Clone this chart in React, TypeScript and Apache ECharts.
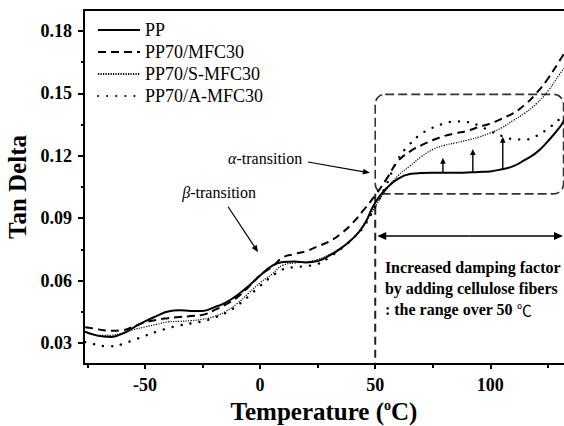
import React, { useEffect, useRef } from "react";
import * as echarts from "echarts";

// Temperature grid (°C)
const temps = [-76, -72, -68, -65, -60, -55, -50, -45, -40, -35, -30, -25, -20, -15, -10, -5, 0, 5, 10, 15, 20, 25, 30, 35, 40, 45, 50, 55, 60, 65, 70, 75, 80, 85, 90, 95, 100, 105, 110, 115, 120, 125, 130, 132];

const ppValues = [0.0355, 0.034, 0.0332, 0.033, 0.0345, 0.0375, 0.0405, 0.043, 0.0452, 0.0458, 0.0455, 0.0455, 0.0472, 0.0495, 0.053, 0.0575, 0.0625, 0.067, 0.069, 0.0692, 0.0688, 0.0695, 0.072, 0.0755, 0.08, 0.0865, 0.0975, 0.1045, 0.109, 0.1112, 0.1117, 0.1118, 0.1118, 0.1118, 0.112, 0.1122, 0.1125, 0.1135, 0.115, 0.118, 0.1215, 0.127, 0.1335, 0.137];

const mfcValues = [0.0377, 0.037, 0.0362, 0.036, 0.0362, 0.038, 0.04, 0.0412, 0.042, 0.0426, 0.043, 0.0436, 0.0458, 0.0485, 0.052, 0.057, 0.0625, 0.0665, 0.0712, 0.0728, 0.0742, 0.0765, 0.0788, 0.0825, 0.0875, 0.094, 0.101, 0.109, 0.1175, 0.122, 0.125, 0.1275, 0.1295, 0.1308, 0.132, 0.1338, 0.1355, 0.1378, 0.1405, 0.1445, 0.15, 0.157, 0.1655, 0.169];

const sMfcValues = [0.0355, 0.0342, 0.0337, 0.0338, 0.0348, 0.0365, 0.0378, 0.039, 0.0402, 0.0405, 0.0408, 0.0415, 0.0428, 0.0452, 0.049, 0.054, 0.059, 0.063, 0.0675, 0.0685, 0.069, 0.0702, 0.0725, 0.0758, 0.08, 0.087, 0.0955, 0.104, 0.1105, 0.115, 0.1195, 0.123, 0.125, 0.1262, 0.1275, 0.129, 0.131, 0.1335, 0.137, 0.1405, 0.145, 0.151, 0.159, 0.162];

const aMfcValues = [0.0305, 0.0295, 0.0286, 0.0285, 0.0295, 0.0315, 0.0335, 0.0355, 0.0372, 0.0385, 0.0395, 0.0405, 0.0422, 0.0445, 0.048, 0.0525, 0.0575, 0.062, 0.0655, 0.0665, 0.067, 0.068, 0.0712, 0.0752, 0.08, 0.086, 0.0955, 0.1065, 0.1185, 0.1255, 0.1305, 0.1335, 0.1355, 0.1365, 0.1362, 0.1345, 0.1318, 0.1295, 0.128, 0.1278, 0.1295, 0.133, 0.1375, 0.139];

const seriesNames = ["PP", "PP70/MFC30", "PP70/S-MFC30", "PP70/A-MFC30"];

const xLabelTicks = [-50, 0, 50, 100];
const xMinorTicks = [-75, -25, 25, 75, 125];
const yLabelTicks = [0.03, 0.06, 0.09, 0.12, 0.15, 0.18];
const yMinorTicks = [0.045, 0.075, 0.105, 0.135, 0.165];

const FONT = '"Liberation Serif", "Times New Roman", serif';

export default function App() {
  const ref = useRef<HTMLDivElement>(null);

  useEffect(() => {
    document.body.style.margin = "0";
    const chart = echarts.init(ref.current!, null, { renderer: "svg" });
    const mk = (vals: number[]) => temps.map((t, i) => [t, vals[i]]);
    const xMin = -76.5;
    const xMax = 132;
    const yMin = 0.02;
    const yMax = 0.19;

    const option: any = {
      animation: false,
      backgroundColor: "#fff",
      grid: { left: 84, top: 10, right: 0, bottom: 62, outerBoundsMode: "none", containLabel: false },
      legend: {
        orient: "vertical",
        left: 97,
        top: 21,
        padding: 0,
        itemWidth: 42,
        itemHeight: 14,
        itemGap: 4,
        data: seriesNames,
        itemStyle: { opacity: 0 },
        textStyle: { fontFamily: FONT, fontSize: 18, color: "#000", lineHeight: 18 },
      },
      xAxis: [
        {
          type: "value",
          min: xMin,
          max: xMax,
          position: "bottom",
          axisLine: { onZero: false, lineStyle: { color: "#000", width: 2 } },
          axisTick: { customValues: xLabelTicks, length: 5, lineStyle: { color: "#000", width: 2 } },
          axisLabel: {
            customValues: xLabelTicks,
            fontFamily: FONT,
            fontSize: 18,
            fontWeight: "bold",
            color: "#000",
            margin: 12,
          },
          splitLine: { show: false },
          name: "{t|Temperature (}{s|o}{t|C)}",
          nameLocation: "middle",
          nameGap: 27,
          nameTextStyle: {
            rich: {
              t: { fontFamily: FONT, fontSize: 25, fontWeight: "bold", color: "#000", lineHeight: 26 },
              s: { fontFamily: FONT, fontSize: 14, fontWeight: "bold", color: "#000", lineHeight: 14, verticalAlign: "top" },
            },
          },
        },
        {
          type: "value",
          min: xMin,
          max: xMax,
          position: "bottom",
          axisLine: { show: false, onZero: false },
          axisTick: { customValues: xMinorTicks, length: 4, lineStyle: { color: "#000", width: 2 } },
          axisLabel: { show: false },
          splitLine: { show: false },
        },
        {
          type: "value",
          min: xMin,
          max: xMax,
          position: "top",
          axisLine: { onZero: false, lineStyle: { color: "#000", width: 2 } },
          axisTick: { show: false },
          axisLabel: { show: false },
          splitLine: { show: false },
        },
      ],
      yAxis: [
        {
          type: "value",
          min: yMin,
          max: yMax,
          position: "left",
          axisLine: { onZero: false, lineStyle: { color: "#000", width: 2 } },
          axisTick: { customValues: yLabelTicks, length: 6, lineStyle: { color: "#000", width: 2 } },
          axisLabel: {
            customValues: yLabelTicks,
            formatter: (v: number) => v.toFixed(2),
            fontFamily: FONT,
            fontSize: 18,
            fontWeight: "bold",
            color: "#000",
            margin: 12,
          },
          splitLine: { show: false },
          name: "Tan Delta",
          nameLocation: "middle",
          nameGap: 54,
          nameTextStyle: { fontFamily: FONT, fontSize: 25, fontWeight: "bold", color: "#000000" },
        },
        {
          type: "value",
          min: yMin,
          max: yMax,
          position: "left",
          axisLine: { show: false, onZero: false },
          axisTick: { customValues: yMinorTicks, length: 3, lineStyle: { color: "#000", width: 2 } },
          axisLabel: { show: false },
          splitLine: { show: false },
        },
      ],
      series: [
        {
          name: seriesNames[0],
          type: "line",
          smooth: true,
          symbol: "none",
          data: mk(ppValues),
          lineStyle: { color: "#000", width: 2, type: "solid" },
          itemStyle: { color: "#000" },
        },
        {
          name: seriesNames[1],
          type: "line",
          smooth: true,
          symbol: "none",
          data: mk(mfcValues),
          lineStyle: { color: "#000", width: 2, type: [8, 5] },
          itemStyle: { color: "#000" },
        },
        {
          name: seriesNames[2],
          type: "line",
          smooth: true,
          symbol: "none",
          data: mk(sMfcValues),
          lineStyle: { color: "#000", width: 1.2, type: [1.2, 1.3] },
          itemStyle: { color: "#000" },
        },
        {
          name: seriesNames[3],
          type: "line",
          smooth: true,
          symbol: "none",
          data: mk(aMfcValues),
          lineStyle: { color: "#000", width: 2.4, type: [0.1, 9], cap: "round" },
          itemStyle: { color: "#000" },
        },
      ],
    };
    chart.setOption(option);

    const P = (x: number, y: number) =>
      chart.convertToPixel({ xAxisIndex: 0, yAxisIndex: 0 }, [x, y]) as number[];

    const arrow = (a: number[], b: number[], len: number, half: number, width: number) => {
      const dx = b[0] - a[0];
      const dy = b[1] - a[1];
      const d = Math.hypot(dx, dy);
      const ux = dx / d;
      const uy = dy / d;
      const bx = b[0] - ux * len;
      const by = b[1] - uy * len;
      return [
        { type: "line", silent: true, shape: { x1: a[0], y1: a[1], x2: bx + ux * 1, y2: by + uy * 1 }, style: { stroke: "#000", lineWidth: width } },
        {
          type: "polygon",
          silent: true,
          shape: { points: [[b[0], b[1]], [bx - uy * half, by + ux * half], [bx + uy * half, by - ux * half]] },
          style: { fill: "#000" },
        },
      ];
    };

    const g: any[] = [];
    // rounded dashed box
    const rTL = P(50, 0.1495);
    const rBR = P(131.8, 0.1017);
    g.push({
      type: "rect",
      silent: true,
      shape: { x: rTL[0], y: rTL[1], width: rBR[0] - rTL[0], height: rBR[1] - rTL[1], r: 10 },
      style: { fill: "none", stroke: "#333", lineWidth: 1.6, lineDash: [9, 4] },
    });
    // vertical dashed line at 50 °C
    const vTop = P(50, 0.1017);
    const vBot = P(50, yMin);
    g.push({
      type: "line",
      silent: true,
      shape: { x1: vTop[0], y1: vTop[1], x2: vBot[0], y2: vBot[1] },
      style: { stroke: "#222", lineWidth: 2, lineDash: [8, 5] },
    });
    // double-headed arrow
    const dA = P(50, 0.0815);
    const dB = P(xMax, 0.0815);
    const mid = [(dA[0] + dB[0]) / 2, dA[1]];
    g.push(...arrow(mid, [dA[0] + 2, dA[1]], 9, 4, 1.6));
    g.push(...arrow(mid, [dB[0] - 1, dB[1]], 9, 4, 1.6));
    // text block
    const tb = P(54.2, 0.0716);
    g.push({
      type: "text",
      silent: true,
      x: tb[0],
      y: tb[1],
      style: {
        text: "{b|Increased damping factor}\n{b|by adding cellulose fibers}\n{b|: the range over 50 }{c|℃}",
        align: "left",
        verticalAlign: "top",
        rich: {
          b: { fontFamily: FONT, fontSize: 16, fontWeight: "bold", lineHeight: 21, fill: "#000" },
          c: { fontFamily: '"Noto Sans CJK SC", sans-serif', fontSize: 15, fontWeight: "normal", lineHeight: 21, fill: "#000" },
        },
      },
    });
    // alpha transition
    const at = P(-13.9, 0.1186);
    g.push({
      type: "text",
      silent: true,
      x: at[0],
      y: at[1],
      style: {
        text: "{i|α}{n|-transition}",
        align: "left",
        verticalAlign: "middle",
        rich: {
          i: { fontFamily: FONT, fontSize: 16, fontStyle: "italic", fill: "#000" },
          n: { fontFamily: FONT, fontSize: 16, fill: "#000" },
        },
      },
    });
    g.push(...arrow(P(20.8, 0.117), P(47.7, 0.1118), 7, 3, 1.2));
    // beta transition
    const bt = P(-33.8, 0.1022);
    g.push({
      type: "text",
      silent: true,
      x: bt[0],
      y: bt[1],
      style: {
        text: "{i|β}{n|-transition}",
        align: "left",
        verticalAlign: "middle",
        rich: {
          i: { fontFamily: FONT, fontSize: 16, fontStyle: "italic", fill: "#000" },
          n: { fontFamily: FONT, fontSize: 16, fill: "#000" },
        },
      },
    });
    g.push(...arrow(P(-13.9, 0.0955), P(-0.9, 0.0737), 7, 3, 1.2));
    // up arrows
    g.push(...arrow(P(79.4, 0.1118), P(79.4, 0.1191), 6, 2.8, 1.4));
    g.push(...arrow(P(92.4, 0.112), P(92.4, 0.1233), 6, 2.8, 1.4));
    g.push(...arrow(P(105.4, 0.1135), P(105.4, 0.1291), 6, 2.8, 1.4));

    chart.setOption({ graphic: g });

    return () => chart.dispose();
  }, []);

  return <div ref={ref} style={{ width: 564, height: 426 }} />;
}
